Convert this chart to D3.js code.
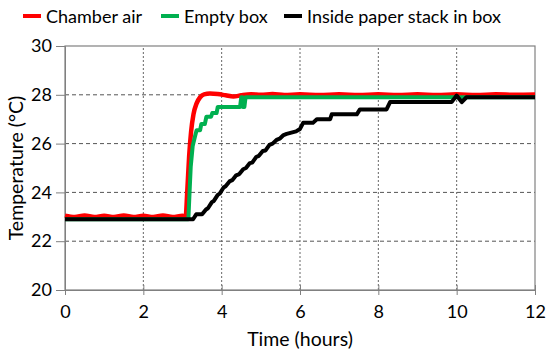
<!DOCTYPE html>
<html>
<head>
<meta charset="utf-8">
<script src="https://cdn.jsdelivr.net/npm/d3@7"></script>
<style>
  body { margin: 0; background: #fff; }
  svg text { font-family: Lato, "Open Sans", sans-serif; fill: #000; }
</style>
</head>
<body>
<div id="chart"></div>
<script>
const kWidth = 550;
const kHeight = 356;
const margin = {top: 46, right: 15, bottom: 66, left: 65};

const seriesNames = ["Chamber air", "Empty box", "Inside paper stack in box"];
const seriesColors = ["#ff0000", "#00b050", "#000000"];
const xTicks = [0, 2, 4, 6, 8, 10, 12];
const yTicks = [20, 22, 24, 26, 28, 30];

// [hours, degC]
const chamberAir = [
  [0, 23.05], [0.25, 22.99], [0.5, 23.05], [0.75, 22.99], [1.0, 23.04], [1.25, 22.99],
  [1.5, 23.05], [1.75, 22.99], [2.0, 23.04], [2.25, 22.99], [2.5, 23.05], [2.75, 22.99],
  [3.0, 23.04], [3.08, 23.0], [3.12, 24.0], [3.17, 25.5], [3.22, 26.5], [3.28, 27.2],
  [3.36, 27.65], [3.45, 27.9], [3.55, 28.02], [3.7, 28.05], [3.9, 28.03], [4.1, 27.98],
  [4.3, 27.93], [4.5, 27.98], [4.75, 28.02], [5.0, 28.0], [5.3, 28.03], [5.6, 27.99],
  [6.0, 28.02], [6.5, 27.99], [7.0, 28.02], [7.5, 27.99], [8.0, 28.02], [8.5, 27.99],
  [9.0, 28.02], [9.5, 27.99], [10.0, 28.02], [10.5, 27.99], [11.0, 28.02], [11.5, 28.0],
  [12.0, 28.01]
];

const emptyBox = [
  [0, 22.9], [3.15, 22.9], [3.18, 24.0], [3.21, 25.05], [3.26, 25.9], [3.32, 26.3],
  [3.36, 26.55], [3.45, 26.55], [3.48, 26.8], [3.57, 26.8], [3.61, 27.1], [3.73, 27.1],
  [3.76, 27.25], [3.87, 27.25], [3.9, 27.5], [4.47, 27.5], [4.5, 27.9], [4.53, 27.9],
  [4.55, 27.5], [4.58, 27.5], [4.61, 27.9], [12, 27.9]
];

const paperStack = [
  [0, 22.9], [3.27, 22.9], [3.35, 23.1], [3.5, 23.1], [3.6, 23.3], [3.65, 23.35],
  [3.75, 23.6], [3.8, 23.65], [3.9, 23.9], [3.95, 23.95], [4.05, 24.2], [4.1, 24.25],
  [4.2, 24.45], [4.27, 24.5], [4.37, 24.7], [4.45, 24.75], [4.55, 24.95], [4.62, 25.0],
  [4.72, 25.2], [4.78, 25.22], [4.88, 25.45], [4.95, 25.5], [5.05, 25.7], [5.12, 25.72],
  [5.22, 25.95], [5.3, 26.0], [5.4, 26.15], [5.48, 26.2], [5.58, 26.35], [5.66, 26.4],
  [5.78, 26.45], [5.9, 26.5], [6.0, 26.6], [6.08, 26.85], [6.33, 26.85], [6.43, 27.0],
  [6.77, 27.0], [6.81, 27.2], [7.45, 27.2], [7.53, 27.4], [8.21, 27.4], [8.3, 27.7],
  [9.87, 27.7], [10.0, 27.97], [10.13, 27.7], [10.25, 27.9], [12, 27.9]
];

const seriesData = [chamberAir, emptyBox, paperStack];

const svg = d3.select("#chart")
  .append("svg")
  .attr("width", kWidth)
  .attr("height", kHeight);

const x = d3.scaleLinear().domain([0, 12]).range([margin.left, kWidth - margin.right]);
const y = d3.scaleLinear().domain([20, 30]).range([kHeight - margin.bottom, margin.top]);

// grid
svg.append("g")
  .selectAll("line")
  .data(yTicks.slice(1, -1))
  .join("line")
  .attr("x1", x(0)).attr("x2", x(12))
  .attr("y1", d => y(d)).attr("y2", d => y(d))
  .attr("stroke", "#555").attr("stroke-width", 1)
  .attr("stroke-dasharray", "4,3");

svg.append("g")
  .selectAll("line")
  .data(xTicks.slice(1, -1))
  .join("line")
  .attr("x1", d => x(d)).attr("x2", d => x(d))
  .attr("y1", y(20)).attr("y2", y(30))
  .attr("stroke", "#666").attr("stroke-width", 1)
  .attr("stroke-dasharray", "2,2");

// plot frame
svg.append("rect")
  .attr("x", x(0)).attr("y", y(30))
  .attr("width", x(12) - x(0)).attr("height", y(20) - y(30))
  .attr("fill", "none").attr("stroke", "#808080").attr("stroke-width", 1.2);

// axes
const yAxis = d3.axisLeft(y).tickValues(yTicks).tickSize(9).tickPadding(4);
const gy = svg.append("g")
  .attr("transform", `translate(${x(0)},0)`)
  .call(yAxis);
gy.select(".domain").attr("stroke", "#808080");
gy.selectAll(".tick line").attr("stroke", "#808080");
gy.selectAll(".tick text").style("font-size", "18px");

const xAxis = d3.axisBottom(x).tickValues(xTicks).tickSize(5).tickPadding(10);
const gx = svg.append("g")
  .attr("transform", `translate(0,${y(20)})`)
  .call(xAxis);
gx.select(".domain").attr("stroke", "#808080");
gx.selectAll(".tick line").attr("stroke", "#808080").attr("y1", -5).attr("y2", 5);
gx.selectAll(".tick text").style("font-size", "18px");

// lines
svg.append("path")
  .datum(chamberAir)
  .attr("fill", "none")
  .attr("stroke", seriesColors[0])
  .attr("stroke-width", 4.5)
  .attr("d", d3.line().x(d => x(d[0])).y(d => y(d[1])).curve(d3.curveMonotoneX));

[1, 2].forEach(i => {
  svg.append("path")
    .datum(seriesData[i])
    .attr("fill", "none")
    .attr("stroke", seriesColors[i])
    .attr("stroke-width", 4)
    .attr("stroke-linejoin", "round")
    .attr("d", d3.line().x(d => x(d[0])).y(d => y(d[1])));
});

// axis titles
svg.append("text")
  .attr("x", (x(0) + x(12)) / 2)
  .attr("y", 346)
  .attr("text-anchor", "middle")
  .style("font-size", "19.5px")
  .text("Time (hours)");

svg.append("text")
  .attr("transform", `translate(23,${(y(20) + y(30)) / 2}) rotate(-90)`)
  .attr("text-anchor", "middle")
  .style("font-size", "19.5px")
  .text("Temperature (°C)");

// legend
const legendX = [23, 161, 284];
const legend = svg.append("g");
seriesNames.forEach((name, i) => {
  legend.append("line")
    .attr("x1", legendX[i]).attr("x2", legendX[i] + 18)
    .attr("y1", 16).attr("y2", 16)
    .attr("stroke", seriesColors[i]).attr("stroke-width", 4);
  legend.append("text")
    .attr("x", legendX[i] + 23)
    .attr("y", 22.5)
    .style("font-size", "18px")
    .text(name);
});
</script>
</body>
</html>
